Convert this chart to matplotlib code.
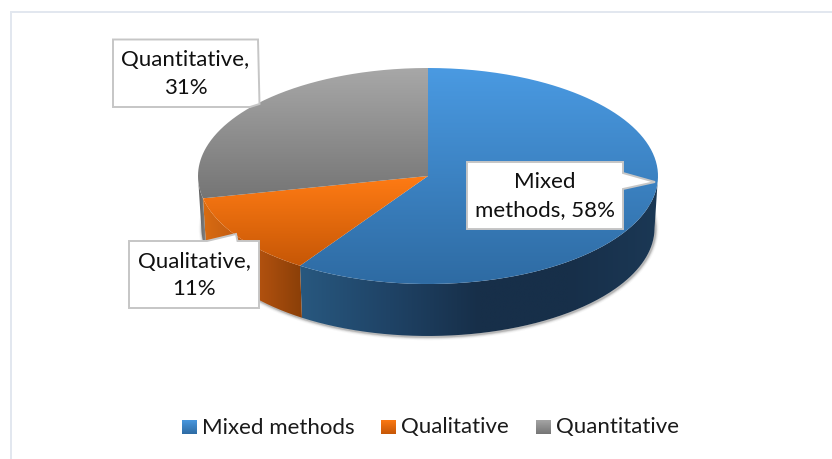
import numpy as np
import matplotlib
matplotlib.use("Agg")
import matplotlib.pyplot as plt
from matplotlib.colors import LinearSegmentedColormap
from matplotlib.patches import Polygon, PathPatch
from matplotlib.path import Path

categories = ["Mixed methods", "Qualitative", "Quantitative"]
values = [58, 11, 31]
label_lines = [["Mixed", "methods, 58%"], ["Qualitative,", "11%"], ["Quantitative,", "31%"]]

top_colors = [["#4A9AE2", "#2E6BA3"], ["#FF7B14", "#C65706"], ["#A8A8A8", "#757575"]]
side_colors = [["#28587F", "#1F4366", "#172F49", "#172F49", "#1B3855"],
               ["#D96C12", "#B85410", "#8A3F08"],
               ["#5A5A5A", "#8A8A8A"]]
plt.rcParams["font.family"] = ["Lato", "DejaVu Sans"]
FS = 16
CX, CY, RX, RY, DEPTH, SHRINK, WARP = 428, 176, 230, 108, 52, 0.985, 10.4

fig = plt.figure(figsize=(8.32, 4.59), dpi=100, facecolor="white")
ax = fig.add_axes([0, 0, 1, 1])
ax.set_xlim(0, 832)
ax.set_ylim(459, 0)
ax.axis("off")
ax.set_aspect("auto")


def warp(t):
    return t - WARP * np.sin(np.radians(t))


def top_xy(t):
    r = np.radians(t)
    return CX + RX * np.sin(r), CY - RY * np.cos(r)


def bottom_xy(t):
    r = np.radians(t)
    return CX + RX * SHRINK * np.sin(r), CY + DEPTH - RY * np.cos(r)


def gradient(poly, colors, vertical=True, z=2):
    poly = np.asarray(poly)
    x0, y0 = poly.min(axis=0)
    x1, y1 = poly.max(axis=0)
    cmap = LinearSegmentedColormap.from_list("g", colors)
    ramp = np.linspace(0, 1, 256)
    img = ramp[:, None] if vertical else ramp[None, :]
    im = ax.imshow(img, cmap=cmap, extent=(x0, x1, y1, y0), origin="upper",
                   aspect="auto", zorder=z, interpolation="bilinear")
    patch = PathPatch(Path(np.vstack([poly, poly[0]])), transform=ax.transData,
                      facecolor="none", edgecolor="none")
    ax.add_patch(patch)
    im.set_clip_path(patch)
    return im


# slice boundaries, clockwise from twelve o'clock
cum = np.cumsum([0] + values) / sum(values) * 360
bounds = [warp(c) for c in cum]

# soft shadow under the body
ts = np.linspace(70, 275, 300)
sx, sy = bottom_xy(ts)
for lw, a in [(7, 0.04), (5, 0.07), (3.5, 0.12), (2, 0.2)]:
    ax.plot(sx + 0.8, sy + 0.8, color="#404040", lw=lw * 0.72, alpha=a, zorder=1,
            solid_capstyle="round")

# side walls (only the front half of the rim is visible)
for i in range(3):
    a, b = max(bounds[i], 90), min(bounds[i + 1], 270)
    if b <= a:
        continue
    t = np.linspace(a, b, 200)
    tx, ty = top_xy(t)
    bx, by = bottom_xy(t)
    poly = np.column_stack([np.r_[tx, bx[::-1]], np.r_[ty, by[::-1]]])
    gradient(poly, side_colors[i], vertical=False, z=2)

# top faces
for i in range(3):
    t = np.linspace(bounds[i], bounds[i + 1], 300)
    tx, ty = top_xy(t)
    poly = np.column_stack([np.r_[CX, tx], np.r_[CY, ty]])
    gradient(poly, top_colors[i], vertical=True, z=3)

# callout labels
boxes = [
    [(467, 162), (623, 162), (623, 173), (655, 182), (623, 189), (623, 229), (467, 229)],
    [(129, 241), (207, 241), (236, 234), (237.5, 241), (259, 241), (259, 308), (129, 308)],
    [(113, 39.5), (258, 39.5), (259.5, 104), (250, 107), (113, 107)],
]
centers = [(545, 196), (194, 275.5), (185.5, 74)]
for i, verts in enumerate(boxes):
    ax.add_patch(Polygon(verts, closed=True, facecolor="white", edgecolor="#C6C6C6",
                         lw=1.4, zorder=5, joinstyle="miter"))
    ax.text(centers[i][0], centers[i][1], "\n".join(label_lines[i]), ha="center", va="center",
            fontsize=FS, color="#101010", linespacing=1.46, zorder=6)

# legend
swatch_x = [182, 381, 536]
text_x = [202, 401, 556]
for i, cat in enumerate(categories):
    x = swatch_x[i]
    gradient([(x, 420), (x + 15, 420), (x + 15, 434.5), (x, 434.5)], top_colors[i], z=4)
    ax.text(text_x[i], 433.5, cat, ha="left", va="baseline", fontsize=FS, color="#1A1A1A", zorder=6)

# chart frame, open to the right and bottom
ax.plot([11, 11, 832], [459, 12, 12], color="#E2E7EF", lw=1.4, zorder=1, solid_joinstyle="miter")

ax.set_xlim(0, 832)
ax.set_ylim(459, 0)
fig.savefig("out.png", dpi=100, facecolor="white")
